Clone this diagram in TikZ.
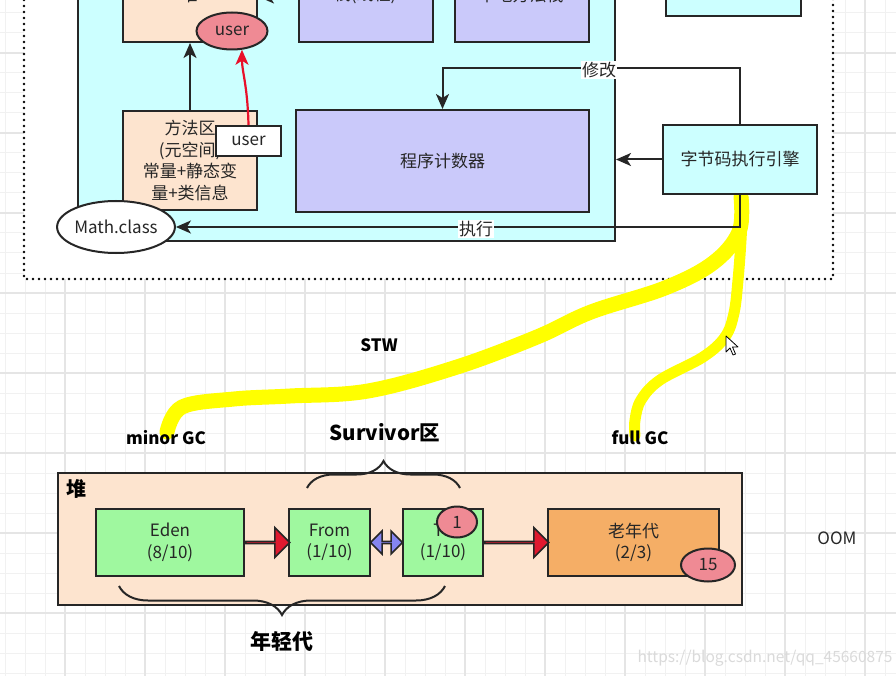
\documentclass[tikz,border=0pt]{standalone}
\usepackage{fontspec}
\setmainfont{Noto Sans CJK SC}
\usetikzlibrary{shapes.geometric,shapes.arrows,arrows.meta,decorations.pathreplacing,calc}
\definecolor{cyanF}{HTML}{CCFFFF}
\definecolor{peach}{HTML}{FDE4CF}
\definecolor{purp}{HTML}{CAC9FA}
\definecolor{greenF}{HTML}{9FF89F}
\definecolor{orangeF}{HTML}{F5AE66}
\definecolor{pinkF}{HTML}{EF8A94}
\definecolor{redA}{HTML}{E0192F}
\definecolor{redL}{HTML}{E8102A}
\definecolor{blueA}{HTML}{8585F0}
\definecolor{lc}{HTML}{262626}
\definecolor{tc}{HTML}{262626}
\definecolor{gminor}{HTML}{F1F1F1}
\definecolor{gmajor}{HTML}{E5E5E5}
\definecolor{hl}{HTML}{FFFF00}
\definecolor{wm}{HTML}{DADADA}
\begin{document}
\begin{tikzpicture}[x=1pt,y=-1pt,
  box/.style={draw=lc, line width=2pt, inner sep=0pt, text=tc, align=center,
    font=\fontsize{17}{21.5}\selectfont},
  ell/.style={box, ellipse},
  conn/.style={draw=lc, line width=2pt, -{Stealth[length=15pt,width=13pt,inset=4pt]}},
  redconn/.style={draw=redL, line width=2.2pt, -{Stealth[length=15pt,width=13pt,inset=4pt]}},
  lbl/.style={text=tc, font=\fontsize{17}{20}\selectfont, inner sep=1pt},
  blbl/.style={text=black, font=\bfseries\fontsize{17}{20}\selectfont, inner sep=0pt},
  hlstroke/.style={draw=hl, line cap=round, line join=round},
  bracestyle/.style={draw=lc, line width=2pt, decorate},
  blockarrow/.style={draw=lc, line width=1.5pt, inner sep=0pt}
]
\useasboundingbox (0,0) rectangle (896,676);
\clip (0,0) rectangle (896,676);
% background and grid
\fill[white] (0,0) rectangle (896,676);
\foreach \x in {5,25,...,885} \draw[gminor, line width=1pt] (\x,0) -- (\x,676);
\foreach \y in {13,33,...,673} \draw[gminor, line width=1pt] (0,\y) -- (896,\y);
\foreach \x in {65,145,...,865} \draw[gmajor, line width=1.2pt] (\x,0) -- (\x,676);
\foreach \y in {53,133,...,613} \draw[gmajor, line width=1.2pt] (0,\y) -- (896,\y);
% dotted frame region
\fill[white] (24,-60) rectangle (833,279);
\draw[black, line width=2.8pt, line cap=round, dash pattern=on 0pt off 6pt]
  (24,-60) -- (24,279) -- (833,279) -- (833,-60);
% yellow highlights
\draw[hlstroke, line width=15pt] plot[smooth, tension=0.6] coordinates {
  (741,197) (739,232) (713,263) (665,288) (591,312) (537,337) (457,367)
  (368,391) (290,396) (234,399) (182,407) (167,432)};
\draw[hlstroke, line width=11pt] plot[smooth, tension=0.6] coordinates {
  (743,197) (741,240) (738,280) (734,313) (725,337) (703,357) (660,380)
  (641,400) (635,420) (635,436)};
% runtime area
\node[box, fill=cyanF, anchor=south west, minimum width=537pt, minimum height=340pt] (rt) at (77,242) {};
\node[box, fill=peach, anchor=south west, minimum width=134pt, minimum height=110pt] (heap) at (122,43) {};
\node[box, fill=purp, anchor=south west, minimum width=134pt, minimum height=110pt] (stack) at (298,43) {};
\node[box, fill=purp, anchor=south west, minimum width=134pt, minimum height=110pt] (native) at (454,43) {};
\node[box, fill=cyanF, anchor=south west, minimum width=135pt, minimum height=100pt] (topright) at (665,17) {};
\node[lbl] (heapt) at (189,-5) {堆};
\node[lbl] (stackt) at (365,-5) {栈(线程)};
\node[lbl] (nativet) at (521,-5) {本地方法栈};
\node[ell, fill=pinkF, minimum width=71pt, minimum height=37pt] (userel) at (232,31) {user};
\node[box, fill=peach, anchor=north west, minimum width=134pt, minimum height=99pt] (method) at (122,110)
  {方法区\\(元空间)\\常量+静态变\\量+类信息};
\node[box, fill=white, anchor=north west, minimum width=65pt, minimum height=30pt] (userbox) at (215,125) {user};
\node[box, fill=purp, anchor=north west, minimum width=293pt, minimum height=102pt] (pc) at (295,109) {程序计数器};
\node[box, fill=cyanF, anchor=north west, minimum width=154pt, minimum height=69pt] (engine) at (662,124) {字节码执行引擎};
\node[ell, fill=white, minimum width=115pt, minimum height=52pt] (mathc) at (116,227) {Math.class};
% connectors
\coordinate (tsrc) at (298,-3);
\coordinate (ttip) at (259,-3);
\draw[conn] (tsrc) -- (ttip);
\draw[conn] (method.north) -- (heap.south);
\draw[redconn] (userbox.north) .. controls (247.5,85) and (242,72) .. (userel.-62);
\draw[conn] (engine.west) -- (rt.east |- engine.west);
\draw[conn] (engine.north) -- ++(0,-56) -| (pc.north);
\draw[conn] (engine.south) |- (mathc.east);
\node[lbl, fill=white] (modl) at (599,70) {修改};
\node[lbl, fill=white] (execl) at (476,229) {执行};
% cursor
\draw[black, fill=white, line width=0.8pt, line join=round]
  (726,336) -- (726,352) -- (730,348) -- (733,355) -- (735.5,354) -- (732.5,347) -- (738,347) -- cycle;
% GC labels
\node[blbl] (stw) at (379,345) {STW};
\node[blbl] (minor) at (166,438) {minor GC};
\node[blbl] (full) at (640,438) {full GC};
\node[blbl, font=\bfseries\fontsize{20.5}{24}\selectfont] (surv) at (385,433) {Survivor区};
% heap (bottom)
\node[box, fill=peach, anchor=north west, minimum width=684pt, minimum height=132pt] (heap2) at (57,472) {};
\node[blbl, font=\bfseries\fontsize{20}{24}\selectfont] (heap2t) at (76,489) {堆};
\node[box, fill=greenF, anchor=north west, minimum width=148pt, minimum height=67pt] (eden) at (95,508) {Eden\\(8/10)};
\node[box, fill=greenF, anchor=north west, minimum width=81pt, minimum height=67pt] (from) at (288,508) {From\\(1/10)};
\node[box, fill=greenF, anchor=north west, minimum width=80pt, minimum height=67pt] (to) at (402,508) {To\\(1/10)};
\node[box, fill=orangeF, anchor=north west, minimum width=171pt, minimum height=67pt] (old) at (547,508) {老年代\\(2/3)};
\node[ell, fill=pinkF, minimum width=40pt, minimum height=31pt] (one) at (457,522) {1};
\node[ell, fill=pinkF, minimum width=54pt, minimum height=33pt] (fifteen) at (708,565) {15};
\node[blockarrow, single arrow, fill=redA, minimum width=30pt, single arrow head extend=9pt,
  minimum height=44pt, anchor=tail] (a1) at (eden.east) {};
\node[blockarrow, double arrow, fill=blueA, minimum width=23pt, double arrow head extend=6.5pt,
  minimum height=32pt] (a2) at ($(from.east)!0.5!(to.west)$) {};
\node[blockarrow, single arrow, fill=redA, minimum width=30pt, single arrow head extend=9pt,
  minimum height=64pt, anchor=tail] (a3) at (to.east) {};
% braces
\draw[bracestyle, decoration={brace, amplitude=27pt}] (307,488) -- (460,488);
\draw[bracestyle, decoration={brace, amplitude=29pt}] (445,586) -- (119,586);
\node[blbl, font=\bfseries\fontsize{21}{24}\selectfont] (young) at (282,641) {年轻代};
\node[lbl] (oom) at (837,538) {OOM};
\node[text=wm, font=\fontsize{15.5}{18}\selectfont, inner sep=0pt] (wmk) at (765,658) {https://blog.csdn.net/qq\_45660875};
\end{tikzpicture}
\end{document}
